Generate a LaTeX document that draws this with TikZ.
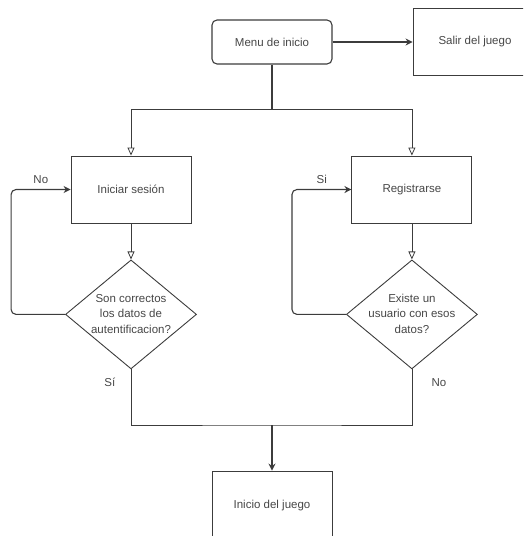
\documentclass[tikz,border=0pt]{standalone}
\usepackage{fontspec}
\setmainfont{Liberation Sans}
\usetikzlibrary{shapes.geometric, arrows.meta, positioning}
\definecolor{linegray}{RGB}{60,60,60}
\definecolor{textgray}{RGB}{70,70,70}

% text of a decision, kept from sizing the diamond
\newcommand{\asktext}[1]{\smash{\makebox[0pt]{\raisebox{-3pt}{\begin{tabular}{@{}c@{}}#1\end{tabular}}}}}

\begin{document}
\begin{tikzpicture}[
      x=1pt, y=-1pt,
      box/.style      = {draw=linegray, line width=0.9pt, minimum width=120pt,
                         minimum height=67pt, align=center, text=textgray,
                         font=\fontsize{11.5}{15.5}\selectfont},
      startbox/.style = {box, rounded corners=5pt, minimum height=44pt, line width=1.1pt},
      decision/.style = {diamond, draw=linegray, line width=0.9pt, inner sep=0pt,
                         minimum width=131pt, minimum height=109pt,
                         text=textgray, font=\fontsize{11.5}{15.5}\selectfont},
      lbl/.style      = {text=textgray, font=\fontsize{11.5}{14}\selectfont},
      line/.style     = {draw=linegray, line width=0.8pt},
      openarrow/.style= {line, -{Triangle[open, width=7pt, length=8pt]}},
      arrow/.style    = {line, line width=1.1pt, -{Stealth[width=7pt, length=7pt]}},
      loop/.style     = {arrow, rounded corners=5pt}
    ]
    \clip (0,0) rectangle (523,536);

    % Nodes
    \node[startbox] (menu) at (272,42) {Menu de inicio};
    \node[box, right=80pt of menu, minimum width=124pt] (salir) {Salir del juego};
    \node[box, below left=91pt and 20pt of menu] (login) {Iniciar sesión};
    \node[box, right=160pt of login] (registro) {Registrarse};
    \node[decision, below=36pt of login] (check1)
         {\asktext{Son correctos\\los datos de\\autentificacion?}};
    \node[decision, below=36pt of registro] (check2)
         {\asktext{Existe un\\usuario con esos\\datos?}};
    \node[box, below=406pt of menu, minimum height=70pt] (juego) {Inicio del juego};

    \coordinate (split) at (272,109);
    \coordinate (join) at (272,425);

    % Relationships
    \draw[arrow] (menu.east) -- (salir.west);
    \draw[line, line width=1.1pt] (menu.south) -- (split);
    \draw[openarrow] (split) -| (login.north);
    \draw[openarrow] (split) -| (registro.north);
    \draw[openarrow] (login.south) -- (check1.north);
    \draw[openarrow] (registro.south) -- (check2.north);
    \draw[loop] (check1.west) -- ++(-54,0) |- node[lbl, pos=0.75, above=2pt] {No} (login.west);
    \draw[loop] (check2.west) -- ++(-54,0) |- node[lbl, pos=0.75, above=2pt] {Si} (registro.west);
    \draw[line] (check1.south) |- node[lbl, pos=0.12, left=12pt] {Sí} (join)
                -| node[lbl, pos=0.88, right=16pt] {No} (check2.south);
    \draw[arrow] (join) -- (juego.north);

  \end{tikzpicture}
\end{document}
